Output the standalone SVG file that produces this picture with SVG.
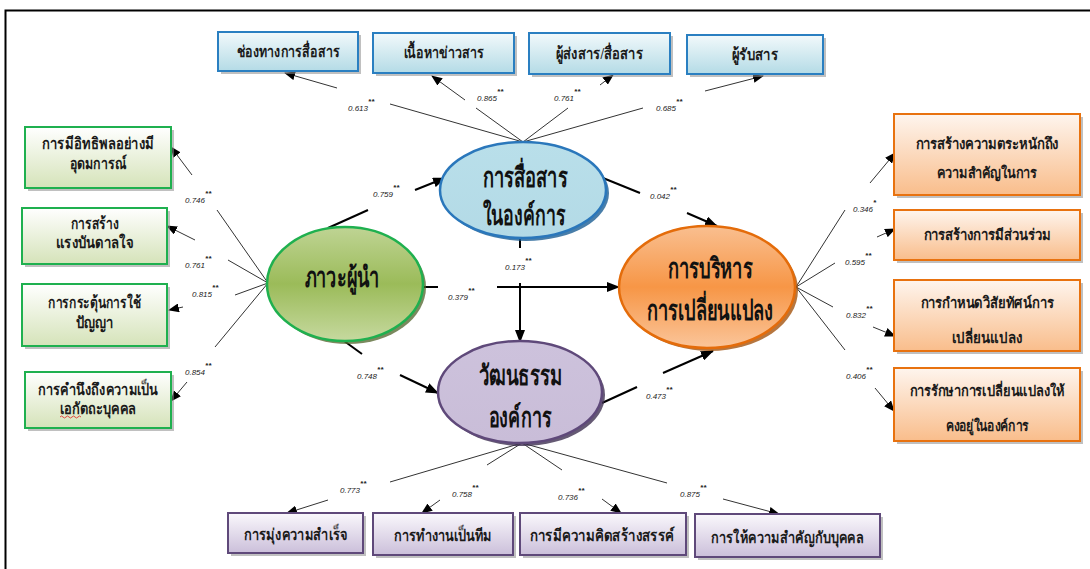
<svg xmlns="http://www.w3.org/2000/svg" width="1090" height="569" viewBox="0 0 1090 569">
<defs>
<linearGradient id="gBlueBox" x1="0" y1="0" x2="0" y2="1"><stop offset="0" stop-color="#f2f9fb"/><stop offset="1" stop-color="#b4dbe6"/></linearGradient>
<linearGradient id="gGreenBox" x1="0" y1="0" x2="0" y2="1"><stop offset="0" stop-color="#ffffff"/><stop offset="1" stop-color="#d5e3b9"/></linearGradient>
<linearGradient id="gOrangeBox" x1="0" y1="0" x2="0" y2="1"><stop offset="0" stop-color="#fef5ee"/><stop offset="1" stop-color="#f9bd8b"/></linearGradient>
<linearGradient id="gPurpleBox" x1="0" y1="0" x2="0" y2="1"><stop offset="0" stop-color="#faf8fc"/><stop offset="1" stop-color="#cbbfda"/></linearGradient>
<linearGradient id="gGreenE" x1="0" y1="0" x2="0" y2="1"><stop offset="0" stop-color="#bfd494"/><stop offset="0.5" stop-color="#9bbb59"/><stop offset="1" stop-color="#c6d99f"/></linearGradient>
<linearGradient id="gOrangeE" x1="0" y1="0" x2="0" y2="1"><stop offset="0" stop-color="#f9bf90"/><stop offset="0.5" stop-color="#f79646"/><stop offset="1" stop-color="#fac59a"/></linearGradient>
<linearGradient id="gBlueE" x1="0" y1="0" x2="0" y2="1"><stop offset="0" stop-color="#b9dfea"/><stop offset="1" stop-color="#b3dae6"/></linearGradient>
<linearGradient id="gPurpleE" x1="0" y1="0" x2="0" y2="1"><stop offset="0" stop-color="#cdc2dc"/><stop offset="1" stop-color="#c9bdd8"/></linearGradient>
<marker id="ah" markerUnits="userSpaceOnUse" markerWidth="11" markerHeight="9" refX="10" refY="4.5" orient="auto"><path d="M0,0 L11,4.5 L0,9 z" fill="#000"/></marker>
<marker id="ahB" markerUnits="userSpaceOnUse" markerWidth="13" markerHeight="10" refX="12" refY="5" orient="auto"><path d="M0,0 L13,5 L0,10 z" fill="#000"/></marker>
<style>
.sh{fill:#8c8c8c;opacity:0.55}
.bb{fill:url(#gBlueBox);stroke:#2a7fc1;stroke-width:2}
.gb{fill:url(#gGreenBox);stroke:#1fb04f;stroke-width:2}
.ob{fill:url(#gOrangeBox);stroke:#e8720f;stroke-width:2}
.pb{fill:url(#gPurpleBox);stroke:#5f497a;stroke-width:2}
.t{font-family:"Liberation Serif",serif;font-weight:bold;font-size:16px;fill:#1a1a1a;text-anchor:middle}
.tr{font-family:"Liberation Serif",serif;font-weight:bold;font-size:15px;fill:#1a1a1a;text-anchor:middle}
.te{font-family:"Liberation Serif",serif;font-weight:bold;font-size:28px;fill:#111;text-anchor:middle}
.c{font-family:"Liberation Sans",sans-serif;font-style:italic;font-size:8px;fill:#222}
.s{font-size:8px;font-weight:bold}
.m{stroke:#333;stroke-width:1;fill:none}
.ma{stroke:#333;stroke-width:1;fill:none;marker-end:url(#ah)}
.k{stroke:#000;stroke-width:2;fill:none}
.ka{stroke:#000;stroke-width:2;fill:none;marker-end:url(#ahB)}
</style>
</defs>
<rect width="1090" height="569" fill="#fff"/>
<path d="M5.5,569 V10.5 H1090" fill="none" stroke="#000" stroke-width="2"/>

<g id="connectors">
<path class="k" d="M328,228 L368,210"/><path class="ka" d="M415,190 L445,178"/>
<path class="k" d="M423,287 H438"/><path class="ka" d="M497,287 H619"/>
<path class="k" d="M520,238 V248"/><path class="ka" d="M520,283 V342"/>
<path class="k" d="M603,178 L640,193"/><path class="ka" d="M687,213 L717,226"/>
<path class="k" d="M340,338 L362,354"/><path class="ka" d="M400,375 L438,393"/>
<path class="k" d="M602,403 L637,387"/><path class="ka" d="M663,373 L713,351"/>
<path class="m" d="M523,142 L390,104"/><path class="ma" d="M337,88 L285,73"/>
<path class="m" d="M523,142 L476,108"/><path class="ma" d="M465,100 L432,76"/>
<path class="m" d="M523,142 L568,108"/><path class="ma" d="M600,85 L613,75"/>
<path class="m" d="M523,142 L643,108"/><path class="ma" d="M705,91 L763,76"/>
<path class="m" d="M268,283 L217,210"/><path class="ma" d="M192,175 L171,147"/>
<path class="m" d="M268,283 L228,260"/><path class="ma" d="M195,240 L167,226"/>
<path class="m" d="M268,283 L235,295"/><path class="ma" d="M183,307 L169,310"/>
<path class="m" d="M268,283 L215,347"/><path class="ma" d="M187,382 L171,401"/>
<path class="m" d="M796,287 L845,210"/><path class="ma" d="M870,183 L895,153"/>
<path class="m" d="M796,287 L835,263"/><path class="ma" d="M877,237 L895,229"/>
<path class="m" d="M796,287 L833,307"/><path class="ma" d="M873,327 L895,336"/>
<path class="m" d="M796,287 L845,350"/><path class="ma" d="M875,388 L894,411"/>
<path class="m" d="M522,443 L390,482"/><path class="ma" d="M328,500 L287,513"/>
<path class="m" d="M522,443 L487,465"/><path class="ma" d="M440,500 L422,513"/>
<path class="m" d="M522,443 L562,470"/><path class="ma" d="M602,499 L621,513"/>
<path class="m" d="M522,443 L667,483"/><path class="ma" d="M723,499 L779,514"/>

<text class="c" x="373" y="197">0.759<tspan class="s" dy="-7">**</tspan></text>
<text class="c" x="448" y="300">0.379<tspan class="s" dy="-7">**</tspan></text>
<text class="c" x="505" y="270">0.173<tspan class="s" dy="-7">**</tspan></text>
<text class="c" x="650" y="199">0.042<tspan class="s" dy="-7">**</tspan></text>
<text class="c" x="357" y="379">0.748<tspan class="s" dy="-7">**</tspan></text>
<text class="c" x="646" y="399">0.473<tspan class="s" dy="-7">**</tspan></text>
<text class="c" x="348" y="111">0.613<tspan class="s" dy="-7">**</tspan></text>
<text class="c" x="477" y="101">0.865<tspan class="s" dy="-7">**</tspan></text>
<text class="c" x="554" y="101">0.761<tspan class="s" dy="-7">**</tspan></text>
<text class="c" x="656" y="111">0.685<tspan class="s" dy="-7">**</tspan></text>
<text class="c" x="185" y="203">0.746<tspan class="s" dy="-7">**</tspan></text>
<text class="c" x="185" y="268">0.761<tspan class="s" dy="-7">**</tspan></text>
<text class="c" x="192" y="297">0.815<tspan class="s" dy="-7">**</tspan></text>
<text class="c" x="185" y="375">0.854<tspan class="s" dy="-7">**</tspan></text>
<text class="c" x="853" y="212">0.346<tspan class="s" dy="-7">*</tspan></text>
<text class="c" x="845" y="265">0.595<tspan class="s" dy="-7">**</tspan></text>
<text class="c" x="846" y="318">0.832<tspan class="s" dy="-7">**</tspan></text>
<text class="c" x="846" y="379">0.406<tspan class="s" dy="-7">**</tspan></text>
<text class="c" x="340" y="493">0.773<tspan class="s" dy="-7">**</tspan></text>
<text class="c" x="452" y="497">0.758<tspan class="s" dy="-7">**</tspan></text>
<text class="c" x="558" y="500">0.736<tspan class="s" dy="-7">**</tspan></text>
<text class="c" x="680" y="497">0.875<tspan class="s" dy="-7">**</tspan></text>
</g>

<g id="n_channel"><rect class="sh" x="221" y="35" width="140" height="39"/><rect class="bb" x="218" y="32" width="140" height="39"/><text class="t" x="288" y="57" textLength="103" lengthAdjust="spacingAndGlyphs">ช่องทางการสื่อสาร</text></g>
<g id="n_content"><rect class="sh" x="376" y="36" width="141" height="40"/><rect class="bb" x="373" y="33" width="141" height="40"/><text class="t" x="443.5" y="58" textLength="80" lengthAdjust="spacingAndGlyphs">เนื้อหาข่าวสาร</text></g>
<g id="n_sender"><rect class="sh" x="532" y="36" width="141" height="41"/><rect class="bb" x="529" y="33" width="141" height="41"/><text class="t" x="599.5" y="59" textLength="87" lengthAdjust="spacingAndGlyphs">ผู้ส่งสาร/สื่อสาร</text></g>
<g id="n_receiver"><rect class="sh" x="690" y="38" width="136" height="39"/><rect class="bb" x="687" y="35" width="136" height="39"/><text class="t" x="755" y="60" textLength="46" lengthAdjust="spacingAndGlyphs">ผู้รับสาร</text></g>

<g id="n_ideal"><rect class="sh" x="28" y="130" width="146" height="61"/><rect class="gb" x="25" y="127" width="146" height="61"/><text class="t" x="98" y="149" textLength="112" lengthAdjust="spacingAndGlyphs">การมีอิทธิพลอย่างมี</text><text class="t" x="98" y="169" textLength="57" lengthAdjust="spacingAndGlyphs">อุดมการณ์</text></g>
<g id="n_inspire"><rect class="sh" x="25" y="211" width="145" height="56"/><rect class="gb" x="22" y="208" width="145" height="56"/><text class="t" x="94.5" y="229" textLength="48" lengthAdjust="spacingAndGlyphs">การสร้าง</text><text class="t" x="94.5" y="248" textLength="77" lengthAdjust="spacingAndGlyphs">แรงบันดาลใจ</text></g>
<g id="n_intellect"><rect class="sh" x="25" y="287" width="145" height="62"/><rect class="gb" x="22" y="284" width="145" height="62"/><text class="t" x="94.5" y="308" textLength="93" lengthAdjust="spacingAndGlyphs">การกระตุ้นการใช้</text><text class="t" x="94.5" y="328" textLength="38" lengthAdjust="spacingAndGlyphs">ปัญญา</text></g>
<g id="n_individual"><rect class="sh" x="28" y="375" width="146" height="56"/><rect class="gb" x="25" y="372" width="146" height="56"/><text class="t" x="98" y="395" textLength="120" lengthAdjust="spacingAndGlyphs">การคำนึงถึงความเป็น</text><text class="t" x="98" y="414" textLength="77" lengthAdjust="spacingAndGlyphs">เอกัตถะบุคคล</text><path d="M60,417 q1.5,-2 3,0 t3,0 t3,0 t3,0 t3,0 t3,0 t3,0" fill="none" stroke="#e02020" stroke-width="0.8"/></g>

<g id="n_aware"><rect class="sh" x="897" y="117" width="186" height="81"/><rect class="ob" x="894" y="114" width="186" height="81"/><text class="tr" x="987" y="149" textLength="143" lengthAdjust="spacingAndGlyphs">การสร้างความตระหนักถึง</text><text class="tr" x="987" y="178" textLength="100" lengthAdjust="spacingAndGlyphs">ความสำคัญในการ</text></g>
<g id="n_particip"><rect class="sh" x="897" y="213" width="186" height="50"/><rect class="ob" x="894" y="210" width="186" height="50"/><text class="tr" x="987" y="240" textLength="127" lengthAdjust="spacingAndGlyphs">การสร้างการมีส่วนร่วม</text></g>
<g id="n_vision"><rect class="sh" x="897" y="283" width="186" height="71"/><rect class="ob" x="894" y="280" width="186" height="71"/><text class="tr" x="987" y="308" textLength="133" lengthAdjust="spacingAndGlyphs">การกำหนดวิสัยทัศน์การ</text><text class="tr" x="987" y="343" textLength="70" lengthAdjust="spacingAndGlyphs">เปลี่ยนแปลง</text></g>
<g id="n_sustain"><rect class="sh" x="897" y="371" width="186" height="73"/><rect class="ob" x="894" y="368" width="186" height="73"/><text class="tr" x="987" y="396" textLength="155" lengthAdjust="spacingAndGlyphs">การรักษาการเปลี่ยนแปลงให้</text><text class="tr" x="987" y="431" textLength="83" lengthAdjust="spacingAndGlyphs">คงอยู่ในองค์การ</text></g>

<g id="n_achieve"><rect class="sh" x="231" y="516" width="135" height="40"/><rect class="pb" x="228" y="513" width="135" height="40"/><text class="t" x="295.5" y="540" textLength="103" lengthAdjust="spacingAndGlyphs">การมุ่งความสำเร็จ</text></g>
<g id="n_team"><rect class="sh" x="376" y="516" width="140" height="42"/><rect class="pb" x="373" y="513" width="140" height="42"/><text class="t" x="443" y="541" textLength="98" lengthAdjust="spacingAndGlyphs">การทำงานเป็นทีม</text></g>
<g id="n_creative"><rect class="sh" x="523" y="516" width="166" height="42"/><rect class="pb" x="520" y="513" width="166" height="42"/><text class="t" x="602" y="541" textLength="145" lengthAdjust="spacingAndGlyphs">การมีความคิดสร้างสรรค์</text></g>
<g id="n_person"><rect class="sh" x="698" y="517" width="185" height="43"/><rect class="pb" x="695" y="514" width="185" height="43"/><text class="t" x="787.5" y="543" textLength="153" lengthAdjust="spacingAndGlyphs">การให้ความสำคัญกับบุคคล</text></g>

<g id="n_comm"><ellipse cx="526" cy="193" rx="83" ry="48" fill="#1b5e93" opacity="0.8"/><ellipse cx="523" cy="190" rx="83" ry="48" fill="url(#gBlueE)" stroke="#2a77bb" stroke-width="2.5"/><text class="te" x="525" y="187" textLength="85" lengthAdjust="spacingAndGlyphs">การสื่อสาร</text><text class="te" x="524" y="225" textLength="83" lengthAdjust="spacingAndGlyphs">ในองค์การ</text></g>
<g id="n_lead"><ellipse cx="348" cy="287" rx="78" ry="57" fill="#4f6228" opacity="0.75"/><ellipse cx="345" cy="284" rx="78" ry="57" fill="url(#gGreenE)" stroke="#1fb04f" stroke-width="2.5"/><text class="te" x="342" y="287" textLength="75" lengthAdjust="spacingAndGlyphs">ภาวะผู้นำ</text></g>
<g id="n_change"><ellipse cx="710" cy="290" rx="88" ry="61" fill="#a4540f" opacity="0.8"/><ellipse cx="707" cy="287" rx="88" ry="61" fill="url(#gOrangeE)" stroke="#e46c0a" stroke-width="2.5"/><text class="te" x="710" y="278" textLength="85" lengthAdjust="spacingAndGlyphs">การบริหาร</text><text class="te" x="710" y="320" textLength="127" lengthAdjust="spacingAndGlyphs">การเปลี่ยนแปลง</text></g>
<g id="n_culture"><ellipse cx="523" cy="395" rx="82" ry="51" fill="#3f3151" opacity="0.8"/><ellipse cx="520" cy="392" rx="82" ry="51" fill="url(#gPurpleE)" stroke="#5f497a" stroke-width="2.5"/><text class="te" x="520" y="385" textLength="83" lengthAdjust="spacingAndGlyphs">วัฒนธรรม</text><text class="te" x="520" y="427" textLength="63" lengthAdjust="spacingAndGlyphs">องค์การ</text></g>
</svg>
